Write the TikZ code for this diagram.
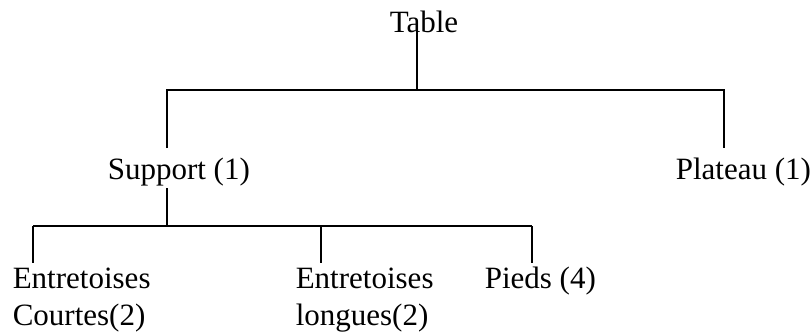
\documentclass[tikz,border=0pt]{standalone}
\usepackage{fontspec}
\setmainfont{Liberation Serif}
\begin{document}
\begin{tikzpicture}[x=1pt, y=-1pt, line width=1.6pt,
  part/.style={inner sep=0pt, anchor=base west, align=left,
    font=\fontsize{31}{37}\selectfont}]
  \useasboundingbox (0,0) rectangle (812,332);
  \node[part] (table) at (389,32) {Table};
  \node[part] (support) at (107,179) {Support (1)};
  \node[part] (plateau) at (675,179) {Plateau (1)};
  \node[part] (courtes) at (12,325) {Entretoises\\Courtes(2)};
  \node[part] (longues) at (295,325) {Entretoises\\longues(2)};
  \node[part] (pieds) at (484,288) {Pieds (4)};
  \coordinate (A) at (417,32);
  \coordinate (B) at (417,90);
  \coordinate (C) at (167,90);
  \coordinate (D) at (724,90);
  \coordinate (E) at (167,148);
  \coordinate (F) at (724,148);
  \coordinate (G) at (167,188);
  \coordinate (H) at (167,226);
  \coordinate (I) at (33,226);
  \coordinate (J) at (321,226);
  \coordinate (K) at (532,226);
  \draw
  (A) -- (B)
  (E) -- (C) -- (D) -- (F)
  (G) -- (H)
  (I) -- (K)
  (I) -- ++(0,37)
  (J) -- ++(0,37)
  (K) -- ++(0,37);
\end{tikzpicture}
\end{document}
